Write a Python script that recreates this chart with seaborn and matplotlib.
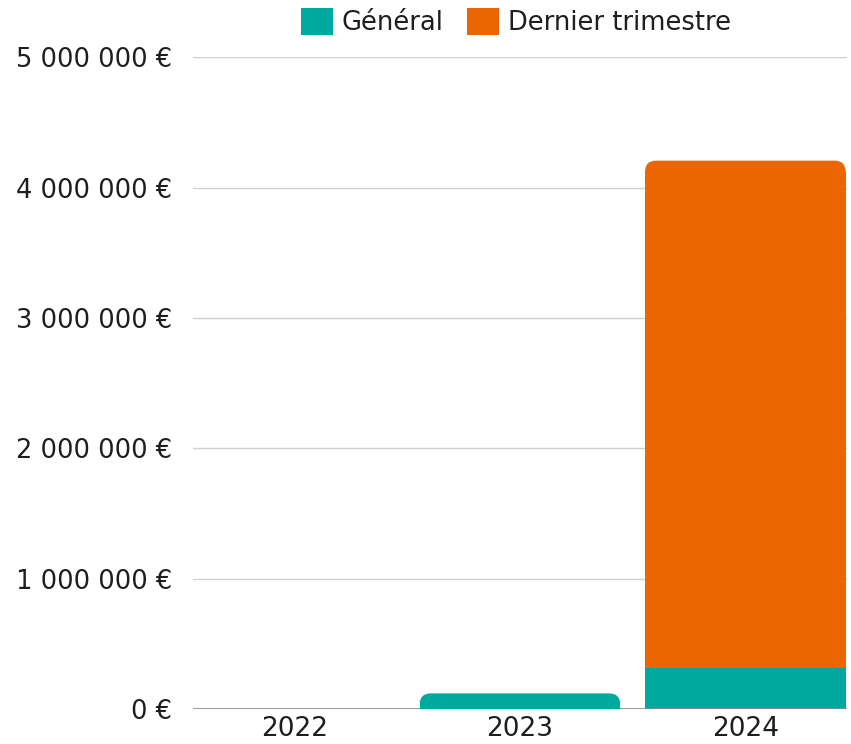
import matplotlib
matplotlib.use("Agg")
import matplotlib.pyplot as plt
from matplotlib.patches import FancyBboxPatch, Rectangle, Patch
from matplotlib.ticker import FuncFormatter, MultipleLocator
import seaborn as sns

years = ["2022", "2023", "2024"]
general = [0, 120000, 317000]
dernier_trimestre = [0, 0, 3890000]

TEAL = "#00a99d"
ORANGE = "#eb6600"

sns.set_theme(style="white")
plt.rcParams["font.family"] = ["DejaVu Sans"]

fig = plt.figure(figsize=(8.51, 7.44), dpi=100)
ax = fig.add_axes([0.227, 0.047, 0.768, 0.876])

sns.barplot(x=years, y=general, color=TEAL, width=0.89, saturation=1,
            linewidth=0, ax=ax)
sns.barplot(x=years, y=dernier_trimestre, bottom=general, color=ORANGE,
            width=0.89, saturation=1, linewidth=0, ax=ax)

ax.set_xlim(-0.45, 2.45)
ax.set_ylim(0, 5000000)

# rounded top corners on the top segment of each stack
px_x = 2.9 / (0.768 * 851)
px_y = 5000000 / (0.876 * 744)
r_px = 11
for i in range(len(years)):
    top = None
    for cont in reversed(ax.containers):
        p = cont.patches[i]
        if p.get_height() > 0:
            top = p
            break
    if top is None:
        continue
    x0, y0 = top.get_x(), top.get_y()
    w, h = top.get_width(), top.get_height()
    fc = top.get_facecolor()
    top.remove()
    ax.add_patch(FancyBboxPatch((x0, y0), w, h,
                                boxstyle=f"round,pad=0,rounding_size={r_px * px_x}",
                                mutation_aspect=px_y / px_x, fc=fc, ec="none",
                                lw=0, zorder=3))
    cover = max(h - r_px * px_y, h / 2)
    ax.add_patch(Rectangle((x0, y0), w, cover, fc=fc, ec="none", lw=0, zorder=3))

ax.yaxis.set_major_locator(MultipleLocator(1000000))
ax.yaxis.set_major_formatter(FuncFormatter(lambda v, _: f"{v:,.0f} €".replace(",", " ")))
ax.grid(axis="y", color="#cfcfcf", linewidth=1)
ax.set_axisbelow(True)
ax.axhline(0, color="#8a8a8a", linewidth=1.2, zorder=2)
for s in ax.spines.values():
    s.set_visible(False)
ax.tick_params(axis="y", length=0, pad=15, labelsize=18.5, labelcolor="#1e1e1e")
ax.tick_params(axis="x", length=0, pad=5, labelsize=19, labelcolor="#1e1e1e")

handles = [Patch(fc=TEAL, ec="none"), Patch(fc=ORANGE, ec="none")]
fig.legend(handles, ["Général", "Dernier trimestre"], loc="upper center",
           bbox_to_anchor=(0.606, 1.02), ncol=2, frameon=False, fontsize=18.5,
           handlelength=1.25, handleheight=1.25, handletextpad=0.35, columnspacing=0.9,
           labelcolor="#1e1e1e")

fig.savefig("out.png", dpi=100)
